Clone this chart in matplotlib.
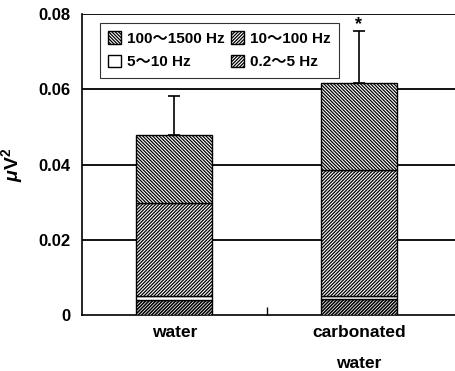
import matplotlib
matplotlib.use("Agg")
import matplotlib.pyplot as plt
import numpy as np

plt.rcParams['font.family'] = ['Liberation Sans', 'Noto Sans CJK JP', 'DejaVu Sans']
plt.rcParams['font.weight'] = 'bold'
plt.rcParams['hatch.linewidth'] = 0.9
plt.rcParams['mathtext.fontset'] = 'custom'
plt.rcParams['mathtext.bf'] = 'Liberation Sans:bold'
plt.rcParams['mathtext.rm'] = 'Liberation Sans:bold'
plt.rcParams['mathtext.it'] = 'Liberation Sans:bold:italic'

categories = ['water', 'carbonated\n\nwater']
bands = ['0.2～5 Hz', '5～10 Hz', '10～100 Hz', '100～1500 Hz']
band_02_5 = [0.0040, 0.0042]
band_5_10 = [0.0010, 0.0008]
band_10_100 = [0.0247, 0.0335]
band_100_1500 = [0.0182, 0.0231]
err_up = [0.0104, 0.0139]
sig = ['', '*']

series = [band_02_5, band_5_10, band_10_100, band_100_1500]
hatches = ['/' * 10, '', '/' * 10, '\\' * 10]
hlw = [1.15, 0.9, 0.9, 0.9]

fig = plt.figure(figsize=(4.56, 3.71), dpi=100)
ax = fig.add_axes([0.1798, 0.1509, 0.818, 0.8114])

x = np.arange(len(categories))
bottom = np.zeros(len(categories))
handles = {}
for name, vals, h, lw in zip(bands, series, hatches, hlw):
    b = ax.bar(x, vals, width=0.41, bottom=bottom, color='white', edgecolor='black',
               hatch=h, linewidth=1.0, zorder=3, label=name)
    for p in b.patches:
        try:
            p.set_hatch_linewidth(lw)
        except Exception:
            pass
    handles[name] = b
    bottom = bottom + np.array(vals)

ax.errorbar(x, bottom, yerr=[np.zeros(len(x)), err_up], fmt='none', ecolor='black',
            elinewidth=1.2, capsize=4, capthick=1.2, zorder=4)
for xi, top, e, s in zip(x, bottom, err_up, sig):
    if s:
        ax.text(xi, top + e - 0.0005, s, ha='center', va='bottom', fontsize=13, fontweight='bold')

ax.set_xlim(-0.5, 1.52)
ax.set_ylim(0, 0.08)
ax.set_yticks([0, 0.02, 0.04, 0.06, 0.08])
ax.set_yticklabels(['0', '0.02', '0.04', '0.06', '0.08'], fontsize=12, fontweight='bold')
ax.tick_params(axis='y', length=0, pad=8)
ax.set_xticks([0.5])
ax.set_xticklabels([''])
ax.tick_params(axis='x', direction='in', length=6, width=1)
for ys in [0.02, 0.04, 0.06, 0.08]:
    ax.axhline(ys, color='black', lw=1.3, zorder=1)
for sp in ['top', 'right']:
    ax.spines[sp].set_visible(False)
ax.spines['left'].set_linewidth(1.2)
ax.spines['bottom'].set_linewidth(1.2)

for xi, c in zip(x, categories):
    ax.text(xi, -0.0027, c, ha='center', va='top', fontsize=12.5, fontweight='bold',
            transform=ax.transData, linespacing=1.05)

ax.set_ylabel(r'$\mu$V$^{2}$', fontsize=14, fontweight='bold', labelpad=10)

order = ['100～1500 Hz', '5～10 Hz', '10～100 Hz', '0.2～5 Hz']
leg = ax.legend([handles[o] for o in order], order, ncol=2, loc='upper left',
                bbox_to_anchor=(0.04, 0.98), fontsize=11, frameon=True, fancybox=False,
                edgecolor='black', handlelength=0.85, handleheight=0.85, handletextpad=0.4,
                columnspacing=0.4, borderpad=0.55, labelspacing=0.6, borderaxespad=0.2)
leg.get_frame().set_linewidth(0.8)
leg.set_zorder(5)

fig.savefig('out.png', dpi=100)
